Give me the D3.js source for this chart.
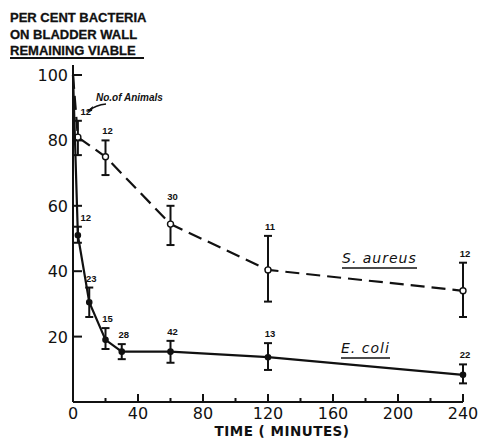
<!DOCTYPE html>
<html>
<head>
<meta charset="utf-8">
<script src="https://cdn.jsdelivr.net/npm/d3@7"></script>
<style>
  body { margin: 0; background: #fff; }
  text { fill: #111; }
</style>
</head>
<body>
<svg id="chart" width="478" height="444"></svg>
<script>
const titleLines = ['PER CENT BACTERIA', 'ON BLADDER WALL', 'REMAINING VIABLE'];
const xTicks = [0, 40, 80, 120, 160, 200, 240];
const xMinorTicks = [20, 60, 100, 140, 180, 220];
const yTicks = [20, 40, 60, 80, 100];

// S. aureus (open circles, dashed)
const aureusTime = [0, 3, 20, 60, 120, 240];
const aureusMean = [100, 81, 75, 54.4, 40.4, 34];
const aureusLow = [null, 75.5, 69.4, 48, 30.7, 26];
const aureusHigh = [null, 86, 80, 60, 50.8, 42.6];
const aureusN = [null, 12, 12, 30, 11, 12];

// E. coli (filled dots, solid)
const coliTime = [0, 3, 10, 20, 30, 60, 120, 240];
const coliMean = [100, 51, 30.5, 19, 15.4, 15.4, 13.7, 8.3];
const coliLow = [null, 48.7, 26, 16.2, 13.1, 12, 9.8, 5.7];
const coliHigh = [null, 53.6, 35, 22.6, 17.7, 18.7, 18, 11.5];
const coliN = [null, 12, 23, 15, 28, 42, 13, 22];

const svg = d3.select('#chart');
const x = d3.scaleLinear().domain([0, 240]).range([73, 463]);
const y = d3.scaleLinear().domain([0, 100]).range([402, 75]);

const ink = '#111';

// title
svg.selectAll('.title').data(titleLines).enter()
  .append('text')
  .attr('x', 10).attr('y', (d, i) => 22 + i * 16.5)
  .attr('font-family', 'Liberation Sans, Arial, sans-serif')
  .attr('font-weight', 'bold').attr('font-size', 13)
  .attr('stroke', ink).attr('stroke-width', 0.3)
  .text(d => d);
svg.append('line').attr('x1', 10).attr('x2', 144).attr('y1', 58).attr('y2', 58)
  .attr('stroke', ink).attr('stroke-width', 2);

// axes
svg.append('line').attr('x1', x(0)).attr('x2', x(0)).attr('y1', 65).attr('y2', y(0))
  .attr('stroke', ink).attr('stroke-width', 2);
svg.append('line').attr('x1', x(0)).attr('x2', x(240)).attr('y1', y(0)).attr('y2', y(0))
  .attr('stroke', ink).attr('stroke-width', 2);

svg.selectAll('.ytick').data(yTicks).enter().append('line')
  .attr('x1', x(0)).attr('x2', x(0) + 9)
  .attr('y1', d => y(d)).attr('y2', d => y(d))
  .attr('stroke', ink).attr('stroke-width', 2);
svg.selectAll('.ylab').data(yTicks).enter().append('text')
  .attr('x', 68).attr('y', d => y(d) + 6)
  .attr('text-anchor', 'end')
  .attr('font-family', 'DejaVu Sans, sans-serif').attr('font-size', 16)
  .text(d => d);

svg.selectAll('.xtick').data(xTicks.slice(1)).enter().append('line')
  .attr('x1', d => x(d)).attr('x2', d => x(d))
  .attr('y1', y(0)).attr('y2', y(0) - 8)
  .attr('stroke', ink).attr('stroke-width', 2);
svg.selectAll('.xminor').data(xMinorTicks).enter().append('line')
  .attr('x1', d => x(d)).attr('x2', d => x(d))
  .attr('y1', y(0)).attr('y2', y(0) - 4)
  .attr('stroke', ink).attr('stroke-width', 2);
svg.selectAll('.xlab').data(xTicks).enter().append('text')
  .attr('x', d => x(d)).attr('y', 419)
  .attr('text-anchor', 'middle')
  .attr('font-family', 'DejaVu Sans, sans-serif').attr('font-size', 16)
  .text(d => d);
svg.append('text').attr('x', 282).attr('y', 436)
  .attr('text-anchor', 'middle')
  .attr('font-family', 'DejaVu Sans, sans-serif').attr('font-weight', 'bold')
  .attr('font-size', 13.5).attr('letter-spacing', 0.5)
  .text('TIME ( MINUTES)');

function drawSeries(times, mean, low, high, counts, dashed, open) {
  const pts = times.map((t, i) => ({ t, m: mean[i], lo: low[i], hi: high[i], n: counts[i] }));
  const line = d3.line().x(d => x(d.t)).y(d => y(d.m));
  svg.append('path').attr('d', line(pts))
    .attr('fill', 'none').attr('stroke', ink).attr('stroke-width', 2.2)
    .attr('stroke-dasharray', dashed ? '14,7' : null);

  const bars = pts.filter(d => d.lo != null);
  const g = svg.append('g').attr('stroke', ink).attr('stroke-width', 2);
  g.selectAll('.eb').data(bars).enter().append('line')
    .attr('x1', d => x(d.t)).attr('x2', d => x(d.t))
    .attr('y1', d => y(d.lo)).attr('y2', d => y(d.hi));
  g.selectAll('.capTop').data(bars).enter().append('line')
    .attr('x1', d => x(d.t) - 4).attr('x2', d => x(d.t) + 4)
    .attr('y1', d => y(d.hi)).attr('y2', d => y(d.hi));
  g.selectAll('.capBot').data(bars).enter().append('line')
    .attr('x1', d => x(d.t) - 4).attr('x2', d => x(d.t) + 4)
    .attr('y1', d => y(d.lo)).attr('y2', d => y(d.lo));

  svg.selectAll(null).data(bars).enter().append('circle')
    .attr('cx', d => x(d.t)).attr('cy', d => y(d.m))
    .attr('r', open ? 3 : 2.6)
    .attr('fill', open ? '#fff' : ink)
    .attr('stroke', ink).attr('stroke-width', 1.4);

  svg.selectAll(null).data(bars).enter().append('text')
    .attr('x', d => x(d.t) + (d.t < 5 ? 8 : 2)).attr('y', d => y(d.hi) - 6)
    .attr('text-anchor', 'middle')
    .attr('font-family', 'Liberation Sans, Arial, sans-serif')
    .attr('font-weight', 'bold').attr('font-size', 9.5)
    .text(d => d.n);
}

drawSeries(aureusTime, aureusMean, aureusLow, aureusHigh, aureusN, true, true);
drawSeries(coliTime, coliMean, coliLow, coliHigh, coliN, false, false);

// annotation
svg.append('text').attr('x', 96).attr('y', 101)
  .attr('font-family', 'Liberation Sans, Arial, sans-serif')
  .attr('font-weight', 'bold').attr('font-style', 'italic').attr('font-size', 10)
  .text('No.of Animals');
svg.append('path').attr('d', 'M106,104 Q96,105 88,111')
  .attr('fill', 'none').attr('stroke', ink).attr('stroke-width', 1.5);
svg.append('path').attr('d', 'M86,112 L93,106 L92,111 Z').attr('fill', ink);

// series labels
function seriesLabel(txt, lx, ly, w) {
  svg.append('text').attr('x', lx).attr('y', ly)
    .attr('font-family', 'DejaVu Sans, sans-serif')
    .attr('font-style', 'italic').attr('font-size', 14).attr('letter-spacing', 1)
    .text(txt);
  svg.append('line').attr('x1', lx).attr('x2', lx + w).attr('y1', ly + 5).attr('y2', ly + 5)
    .attr('stroke', ink).attr('stroke-width', 1.5);
}
seriesLabel('S. aureus', 342, 263, 75);
seriesLabel('E. coli', 341, 353, 49);
</script>
</body>
</html>
